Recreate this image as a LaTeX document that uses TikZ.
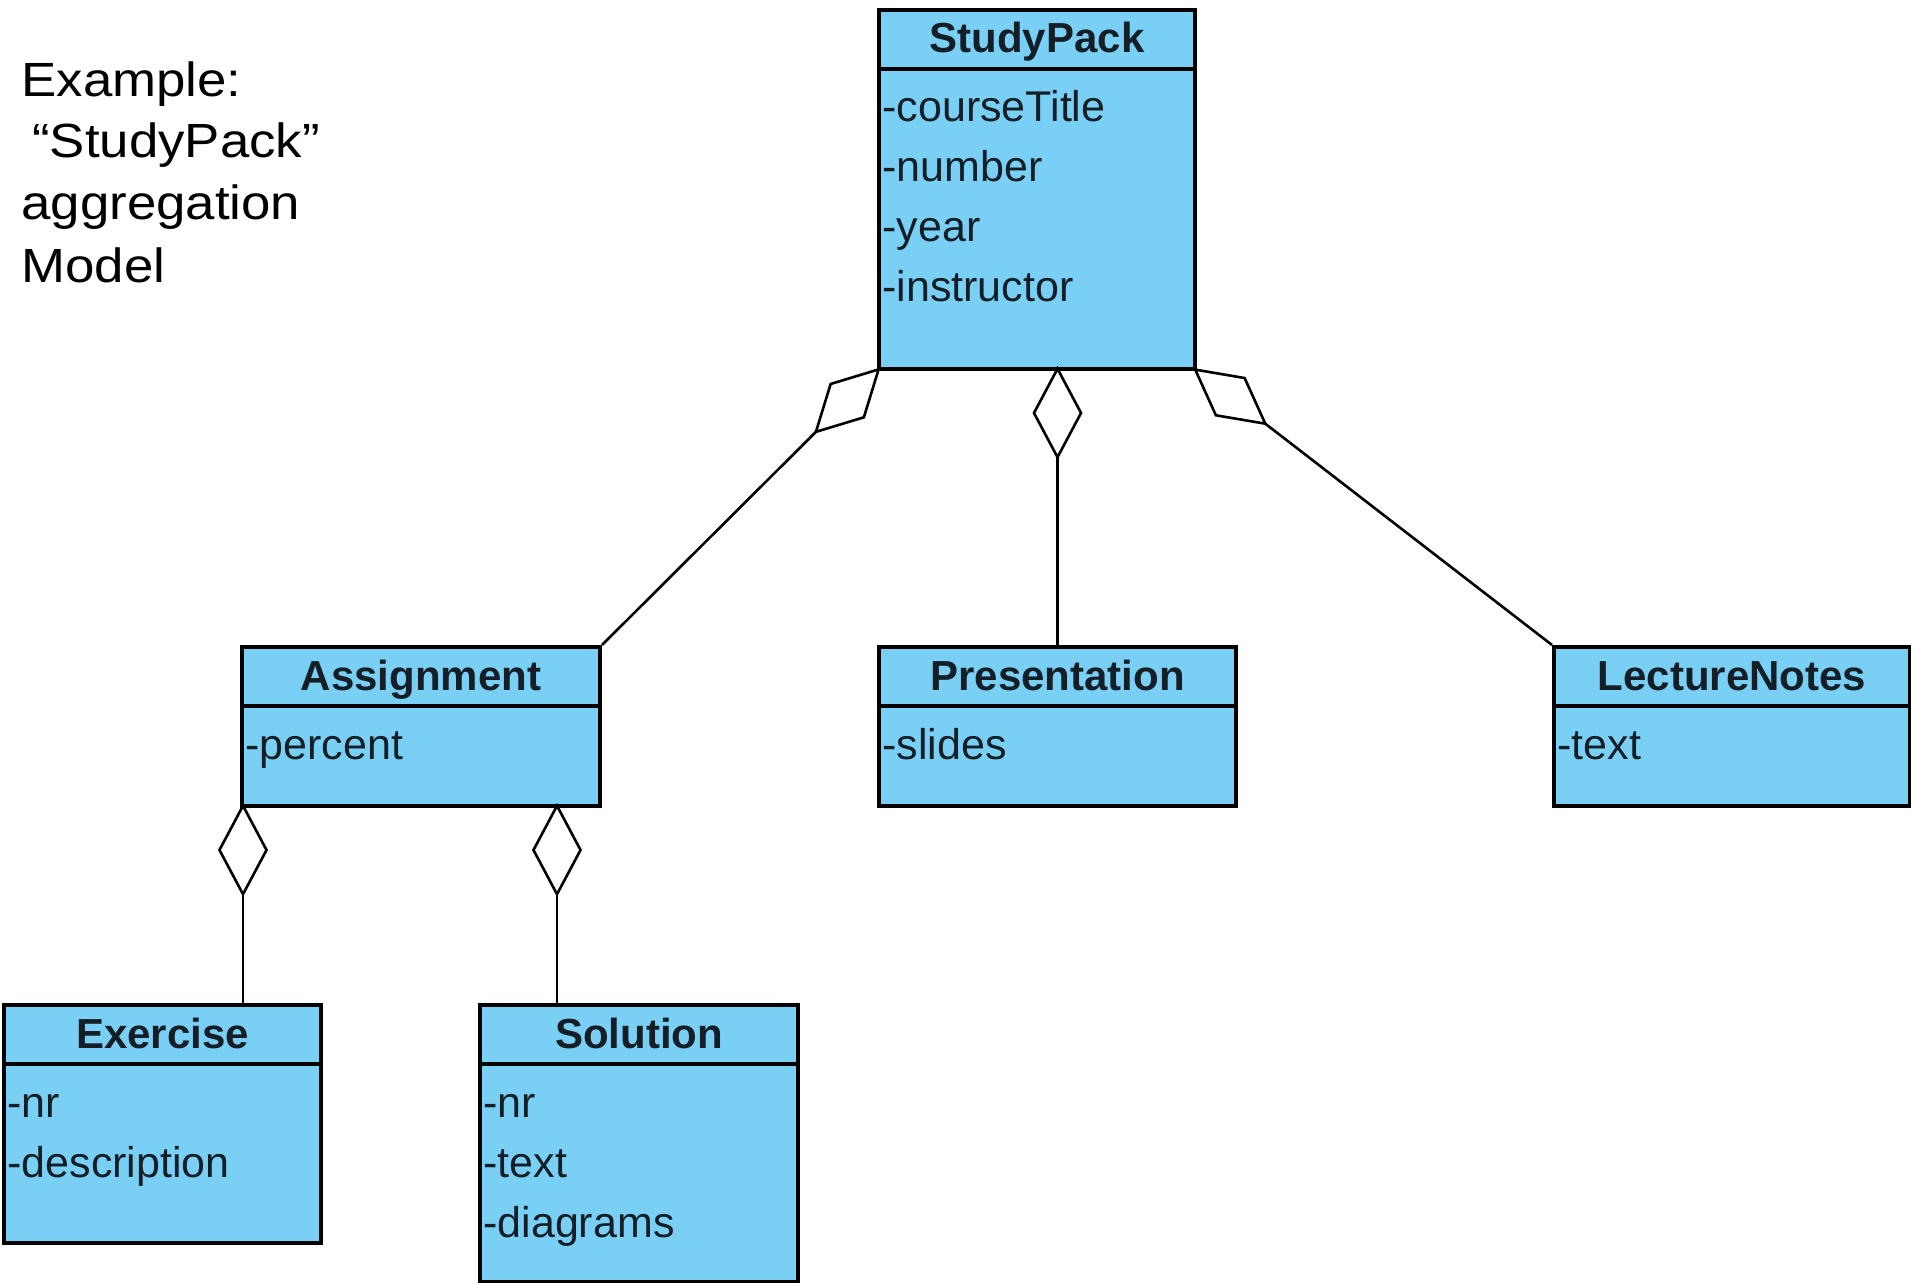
\documentclass[tikz,border=0pt]{standalone}
\usepackage{fontspec}
\setmainfont{Liberation Sans}
\newfontfamily\capfont[FakeStretch=1.1]{Liberation Sans}
\usetikzlibrary{arrows.meta,calc}

\definecolor{classfill}{RGB}{122,207,244}
\definecolor{classtext}{RGB}{20,30,38}

% UML class: name, x, y, width, height, title, attribute list
\newcommand{\umlclass}[7]{%
  \node[classbox, minimum width=#4*0.5pt, minimum height=#5*0.5pt] (#1) at (#2,#3) {};
  \draw[line width=2pt] ($(#1.north west)+(0,61)$) -- ($(#1.north east)+(0,61)$);
  \node[classtitle] (#1-title) at ($(#1.north)+(0,45)$) {#6};
  \foreach \a [count=\i] in {#7} {
    \node[attr] (#1-attr\i) at ($(#1.north west)+(5,{114+60*(\i-1)})$) {\a};
  }
}

\begin{document}
\begin{tikzpicture}[x=0.5pt,y=-0.5pt,
  classbox/.style={draw=black, line width=2pt, fill=classfill, rectangle, inner sep=0pt, anchor=north west},
  classtitle/.style={anchor=base, inner sep=0pt, font=\fontsize{21}{25}\selectfont\bfseries, text=classtext},
  attr/.style={anchor=base west, inner sep=0pt, font=\fontsize{21.5}{25}\selectfont, text=classtext},
  agg/.style={draw=black, line width=1.3pt, line join=miter, shorten >=-2.5pt,
    -{Diamond[open, fill=white, length=47pt, width=25pt]}},
  caption/.style={anchor=base west, inner sep=0pt, font=\capfont\fontsize{24}{30}\selectfont}
]
\useasboundingbox (0,0) rectangle (1911,1283);

% caption
\node[caption] (cap1) at (21,97) {Example:};
\node[caption] (cap2) at (32,158) {“StudyPack”};
\node[caption] (cap3) at (21,220) {aggregation};
\node[caption] (cap4) at (21,283) {Model};

% classes
\umlclass{sp}{877}{8}{316}{359}{StudyPack}{-courseTitle,-number,-year,-instructor}
\umlclass{asg}{240}{645}{358}{159}{Assignment}{-percent}
\umlclass{pre}{877}{645}{357}{159}{Presentation}{-slides}
\umlclass{ln}{1552}{645}{356}{159}{LectureNotes}{-text}
\umlclass{ex}{2}{1003}{317}{238}{Exercise}{-nr,-description}
\umlclass{sol}{478}{1003}{318}{277}{Solution}{-nr,-text,-diagrams}

% aggregations
\draw[agg] (asg.north east) -- (sp.south west);
\draw[agg] (pre.north) -- (pre.north |- sp.south);
\draw[agg] (ln.north west) -- (sp.south east);
\coordinate (exj) at ($(asg.south west)+(3,0)$);
\coordinate (solj) at ($(asg.south west)+(317,0)$);
\draw[agg] (exj |- ex.north) -- (exj);
\draw[agg] (solj |- sol.north) -- (solj);
\end{tikzpicture}
\end{document}
